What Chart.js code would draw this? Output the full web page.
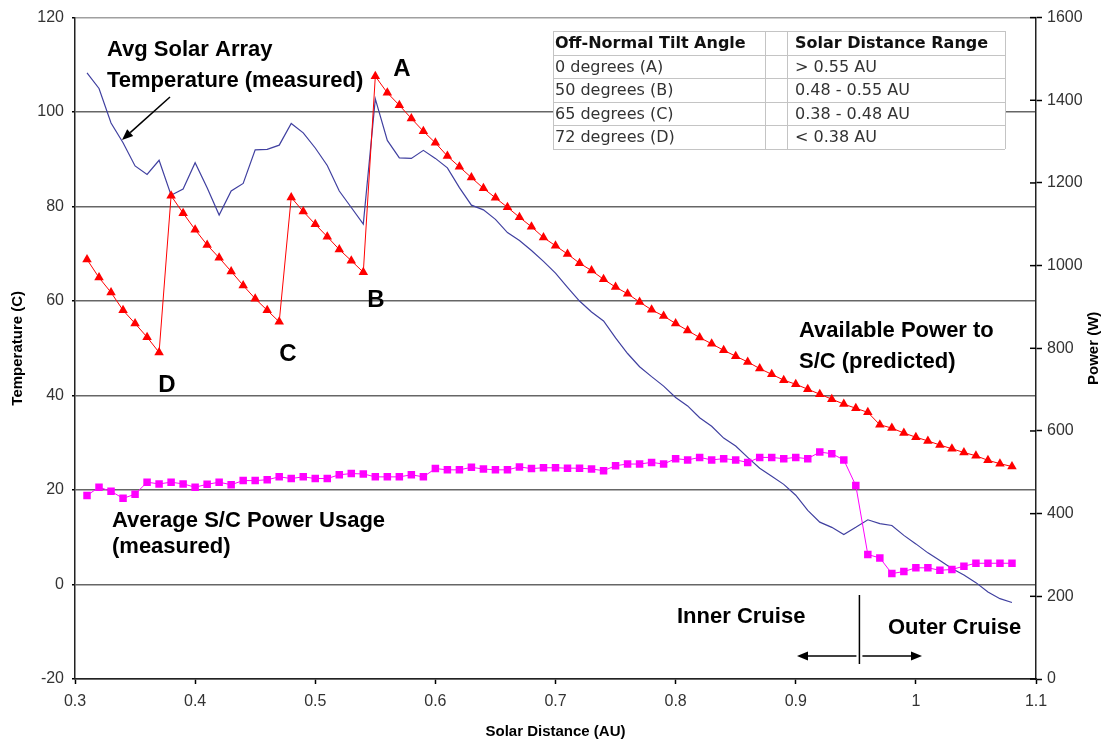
<!DOCTYPE html>
<html>
<head>
<meta charset="utf-8">
<title>Solar array temperature and power vs solar distance</title>
<script src="https://cdn.jsdelivr.net/npm/chart.js@4.4.0/dist/chart.umd.min.js"></script>
<style>
  html, body { margin: 0; padding: 0; background: #fff; }
  #wrap { width: 1109px; height: 745px; }
</style>
</head>
<body>
<div id="wrap"><canvas id="chart" width="1109" height="745"></canvas></div>
<script>
// Solar distance (AU) of every sample
const distance = [
  0.31, 0.32, 0.33, 0.34, 0.35, 0.36, 0.37, 0.38, 0.39, 0.40,
  0.41, 0.42, 0.43, 0.44, 0.45, 0.46, 0.47, 0.48, 0.49, 0.50,
  0.51, 0.52, 0.53, 0.54, 0.55, 0.56, 0.57, 0.58, 0.59, 0.60,
  0.61, 0.62, 0.63, 0.64, 0.65, 0.66, 0.67, 0.68, 0.69, 0.70,
  0.71, 0.72, 0.73, 0.74, 0.75, 0.76, 0.77, 0.78, 0.79, 0.80,
  0.81, 0.82, 0.83, 0.84, 0.85, 0.86, 0.87, 0.88, 0.89, 0.90,
  0.91, 0.92, 0.93, 0.94, 0.95, 0.96, 0.97, 0.98, 0.99, 1.00,
  1.01, 1.02, 1.03, 1.04, 1.05, 1.06, 1.07, 1.08
];

// Available power to S/C, predicted (W) - right axis
const availablePower = [
  1015, 971, 935, 892, 860, 827, 790, 1169, 1127, 1087,
  1050, 1019, 986, 952, 920, 892, 864, 1165, 1131, 1100,
  1070, 1039, 1012, 984, 1458, 1418, 1388, 1356, 1325, 1297,
  1265, 1239, 1213, 1187, 1164, 1141, 1117, 1094, 1068, 1048,
  1028, 1006, 988, 967, 948, 932, 912, 893, 878, 860,
  843, 826, 811, 795, 781, 767, 751, 737, 723, 713,
  701, 689, 677, 665, 655, 645, 615, 607, 595, 585,
  576, 566, 557, 548, 540, 529, 521, 514
];

// Average S/C power usage, measured (W) - right axis
const powerUsage = [
  444, 464, 454, 437, 447, 476, 472, 476, 472, 464,
  471, 476, 470, 480, 480, 482, 489, 485, 489, 485,
  485, 494, 497, 496, 489, 489, 489, 494, 489, 509,
  506, 506, 512, 508, 506, 506, 513, 509, 511, 511,
  510, 510, 508, 504, 516, 520, 520, 524, 520, 533,
  530, 536, 530, 533, 530, 524, 536, 536, 533, 536,
  533, 549, 545, 530, 468, 301, 293, 255, 260, 269,
  269, 263, 265, 273, 280, 280, 280, 280
];

// Avg solar array temperature, measured (C) - left axis
const arrayTemp = [
  108.3, 105.0, 97.7, 93.5, 88.6, 86.8, 89.8, 82.4, 83.7, 89.3,
  84.0, 78.2, 83.3, 84.9, 92.0, 92.1, 93.0, 97.6, 95.6, 92.4,
  88.7, 83.3, 79.8, 76.3, 102.8, 94.0, 90.3, 90.2, 91.9, 90.2,
  88.2, 84.0, 80.3, 79.3, 77.3, 74.5, 72.8, 70.7, 68.4, 65.9,
  62.9, 60.0, 57.7, 55.8, 52.2, 48.9, 46.1, 44.0, 42.0, 39.6,
  37.8, 35.3, 33.5, 31.0, 29.3, 26.9, 24.6, 22.9, 21.2, 18.9,
  15.7, 13.2, 12.1, 10.6, 12.1, 13.7, 12.9, 12.5, 10.4, 8.6,
  6.7, 5.1, 3.4, 2.0, 0.4, -1.6, -3.0, -3.8
];

// table in the top right corner
const tableHeader = ["Off-Normal Tilt Angle", "Solar Distance Range"];
const tiltAngles = ["0 degrees (A)", "50 degrees (B)", "65 degrees (C)", "72 degrees (D)"];
const distanceRanges = ["> 0.55 AU", "0.48 - 0.55 AU", "0.38 - 0.48 AU", "< 0.38 AU"];

const SANS = '"Liberation Sans", Arial, sans-serif';

function points(values) {
  return distance.map((d, i) => ({ x: d, y: values[i] }));
}

function arrow(ctx, x1, y1, x2, y2) {
  const ang = Math.atan2(y2 - y1, x2 - x1);
  const len = 11, half = 4.5;
  const bx = x2 - Math.cos(ang) * len, by = y2 - Math.sin(ang) * len;
  ctx.beginPath();
  ctx.moveTo(x1, y1);
  ctx.lineTo(bx, by);
  ctx.stroke();
  ctx.beginPath();
  ctx.moveTo(x2, y2);
  ctx.lineTo(bx + Math.sin(ang) * half, by - Math.cos(ang) * half);
  ctx.lineTo(bx - Math.sin(ang) * half, by + Math.cos(ang) * half);
  ctx.closePath();
  ctx.fill();
}

const overlay = {
  id: "overlay",
  afterDraw(chart) {
    const ctx = chart.ctx;
    const area = chart.chartArea;
    const xs = chart.scales.x;
    const y2 = chart.scales.y2;
    ctx.save();

    // power axis ticks also cross into the plot
    ctx.strokeStyle = "#000";
    ctx.lineWidth = 1.5;
    y2.ticks.forEach(t => {
      const py = y2.getPixelForValue(t.value);
      ctx.beginPath();
      ctx.moveTo(area.right - 6, py);
      ctx.lineTo(area.right, py);
      ctx.stroke();
    });

    // right axis title reads bottom to top
    ctx.save();
    ctx.translate(1094, (area.top + area.bottom) / 2);
    ctx.rotate(-Math.PI / 2);
    ctx.font = "bold 15px " + SANS;
    ctx.fillStyle = "#000";
    ctx.textAlign = "center";
    ctx.textBaseline = "middle";
    ctx.fillText("Power (W)", 0, 0);
    ctx.restore();

    // text labels
    ctx.fillStyle = "#000";
    ctx.textAlign = "left";
    ctx.textBaseline = "alphabetic";
    ctx.font = "bold 22px " + SANS;
    ctx.fillText("Avg Solar Array", 107, 56);
    ctx.fillText("Temperature (measured)", 107, 87);
    ctx.fillText("Available Power to", 799, 337);
    ctx.fillText("S/C (predicted)", 799, 368);
    ctx.fillText("Average S/C Power Usage", 112, 527);
    ctx.fillText("(measured)", 112, 553);
    ctx.fillText("Inner Cruise", 677, 623);
    ctx.fillText("Outer Cruise", 888, 634);

    ctx.font = "bold 24px " + SANS;
    ctx.textAlign = "center";
    ctx.fillText("A", 402, 76);
    ctx.fillText("B", 376, 307);
    ctx.fillText("C", 288, 361);
    ctx.fillText("D", 167, 392);

    // arrows
    ctx.strokeStyle = "#000";
    ctx.lineWidth = 1.5;
    arrow(ctx, 170, 97, 122, 140);
    const split = xs.getPixelForValue(0.953);
    ctx.beginPath();
    ctx.moveTo(split, 595);
    ctx.lineTo(split, 664);
    ctx.stroke();
    arrow(ctx, split - 3, 656, 797, 656);
    arrow(ctx, split + 3, 656, 922, 656);

    // table
    const colX = [553, 765, 787, 1005];
    const top = 31, rowH = 23.6, rows = tiltAngles.length + 1;
    ctx.fillStyle = "#fff";
    ctx.fillRect(colX[0], top, colX[3] - colX[0], rowH * rows);
    ctx.strokeStyle = "#c4c4c4";
    ctx.lineWidth = 1;
    for (let r = 0; r <= rows; r++) {
      const yy = Math.round(top + r * rowH) + 0.5;
      ctx.beginPath();
      ctx.moveTo(colX[0], yy);
      ctx.lineTo(colX[3], yy);
      ctx.stroke();
    }
    colX.forEach(cx => {
      ctx.beginPath();
      ctx.moveTo(cx + 0.5, top);
      ctx.lineTo(cx + 0.5, top + rowH * rows);
      ctx.stroke();
    });
    ctx.textAlign = "left";
    ctx.textBaseline = "middle";
    ctx.fillStyle = "#111";
    ctx.font = 'bold 16px "DejaVu Sans", Verdana, sans-serif';
    ctx.fillText(tableHeader[0], colX[0] + 2, top + rowH / 2 + 1);
    ctx.fillText(tableHeader[1], colX[2] + 8, top + rowH / 2 + 1);
    ctx.fillStyle = "#333";
    ctx.font = '16px "DejaVu Sans", Verdana, sans-serif';
    tiltAngles.forEach((t, i) => {
      const cy = top + (i + 1) * rowH + rowH / 2 + 1;
      ctx.fillText(t, colX[0] + 2, cy);
      ctx.fillText(distanceRanges[i], colX[2] + 8, cy);
    });

    ctx.restore();
  }
};

new Chart(document.getElementById("chart"), {
  type: "line",
  data: {
    datasets: [
      {
        label: "Available Power to S/C (predicted)",
        data: points(availablePower),
        yAxisID: "y2",
        borderColor: "#ff0000",
        backgroundColor: "#ff0000",
        borderWidth: 1,
        pointStyle: "triangle",
        pointRadius: 5.5,
        pointBorderWidth: 0,
        tension: 0
      },
      {
        label: "Average S/C Power Usage (measured)",
        data: points(powerUsage),
        yAxisID: "y2",
        borderColor: "#ff00ff",
        backgroundColor: "#ff00ff",
        borderWidth: 1,
        pointStyle: "rect",
        pointRadius: 5.3,
        pointBorderWidth: 0,
        tension: 0
      },
      {
        label: "Avg Solar Array Temperature (measured)",
        data: points(arrayTemp),
        yAxisID: "y",
        borderColor: "#4040a0",
        borderWidth: 1.2,
        pointRadius: 0,
        tension: 0
      }
    ]
  },
  options: {
    responsive: false,
    animation: false,
    devicePixelRatio: 1,
    layout: { padding: { top: 15 } },
    plugins: {
      legend: { display: false },
      tooltip: { enabled: false }
    },
    scales: {
      x: {
        type: "linear",
        min: 0.3,
        max: 1.1,
        ticks: {
          stepSize: 0.1,
          padding: 8,
          color: "#333",
          font: { family: SANS, size: 16 },
          callback: v => String(+v.toFixed(2))
        },
        grid: { drawOnChartArea: false, tickLength: 5, tickColor: "#000", tickWidth: 1.5 },
        border: { color: "#222", width: 1.5 },
        title: {
          display: true,
          text: "Solar Distance (AU)",
          color: "#000",
          font: { family: SANS, size: 15, weight: "bold" },
          padding: { top: 0, bottom: 4 }
        },
        afterFit(s) { s.height = 66; }
      },
      y: {
        position: "left",
        min: -20,
        max: 120,
        ticks: {
          stepSize: 20,
          padding: 8,
          color: "#333",
          font: { family: SANS, size: 16 }
        },
        grid: {
          color: c => (c.tick && c.tick.value === 120) ? "#a0a0a0" : "#666",
          lineWidth: 1.5,
          tickLength: 3,
          tickColor: "#000",
          tickWidth: 1.5
        },
        border: { color: "#222", width: 1.5 },
        title: {
          display: true,
          text: "Temperature (C)",
          color: "#000",
          font: { family: SANS, size: 15, weight: "bold" },
          padding: { top: 9, bottom: 0 }
        },
        afterFit(s) { s.width = 75; }
      },
      y2: {
        position: "right",
        min: 0,
        max: 1600,
        ticks: {
          stepSize: 200,
          padding: 5,
          color: "#333",
          font: { family: SANS, size: 16 },
          callback: v => String(v)
        },
        grid: { drawOnChartArea: false, tickLength: 6, tickColor: "#000", tickWidth: 1.5 },
        border: { color: "#222", width: 1.5 },
        afterFit(s) { s.width = 73; }
      }
    }
  },
  plugins: [overlay]
});
</script>
</body>
</html>
